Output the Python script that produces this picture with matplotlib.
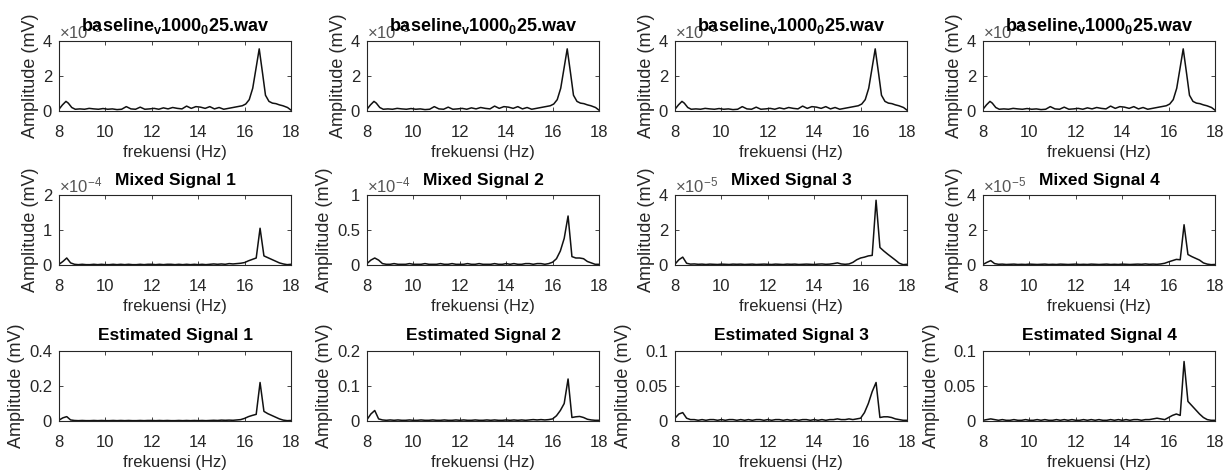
import numpy as np
import matplotlib.pyplot as plt

plt.rcParams['font.family'] = ['Liberation Sans', 'DejaVu Sans']
plt.rcParams['mathtext.fontset'] = 'custom'
plt.rcParams['mathtext.rm'] = 'Liberation Sans'
plt.rcParams['mathtext.it'] = 'Liberation Sans:italic'
plt.rcParams['mathtext.bf'] = 'Liberation Sans:bold'

# spectrum of the reference recording (mV, x1e-3)
freq_base = [8.00, 8.15, 8.30, 8.40, 8.55, 8.70, 8.90,
             9.10, 9.30, 9.50, 9.70, 9.90, 10.10, 10.30, 10.50, 10.70, 10.90,
             11.10, 11.30, 11.50, 11.70, 11.90, 12.10, 12.30, 12.50, 12.70, 12.90,
             13.10, 13.30, 13.50, 13.70, 13.90, 14.10, 14.30, 14.50, 14.70, 14.90,
             15.10, 15.30, 15.50, 15.70, 15.90,
             16.05, 16.20, 16.35, 16.50, 16.63, 16.78, 16.90, 17.05, 17.20, 17.35,
             17.50, 17.65, 17.85, 18.00]
amp_base = [0.10, 0.35, 0.55, 0.45, 0.20, 0.10, 0.12,
            0.10, 0.15, 0.12, 0.10, 0.14, 0.10, 0.12, 0.08, 0.10, 0.25,
            0.12, 0.10, 0.22, 0.10, 0.12, 0.15, 0.10, 0.18, 0.12, 0.20,
            0.15, 0.12, 0.28, 0.15, 0.25, 0.22, 0.15, 0.25, 0.12, 0.20,
            0.10, 0.15, 0.20, 0.25, 0.30,
            0.40, 0.65, 1.30, 2.50, 3.55, 2.10, 0.90, 0.55, 0.45, 0.42,
            0.35, 0.30, 0.20, 0.05]

# mixed / estimated spectra share a 1/6 Hz grid
freq = np.linspace(8, 18, 61)

mixed1 = [0.02, 0.10, 0.20, 0.06, 0.02, 0.01, 0.02, 0.01, 0.01, 0.02,
          0.01, 0.02, 0.01, 0.01, 0.02, 0.01, 0.02, 0.01, 0.02, 0.01,
          0.01, 0.02, 0.01, 0.02, 0.02, 0.01, 0.02, 0.01, 0.02, 0.02,
          0.01, 0.02, 0.01, 0.02, 0.01, 0.02, 0.01, 0.02, 0.01, 0.02,
          0.03, 0.02, 0.03, 0.02, 0.04, 0.03, 0.04, 0.05, 0.07, 0.12,
          0.16, 0.20, 1.05, 0.26, 0.21, 0.16, 0.11, 0.06, 0.03, 0.01,
          0.02]
mixed2 = [0.02, 0.07, 0.10, 0.07, 0.02, 0.01, 0.01, 0.02, 0.01, 0.01,
          0.01, 0.02, 0.01, 0.01, 0.01, 0.02, 0.01, 0.01, 0.01, 0.02,
          0.01, 0.01, 0.02, 0.01, 0.01, 0.01, 0.02, 0.01, 0.01, 0.02,
          0.01, 0.01, 0.01, 0.02, 0.01, 0.01, 0.02, 0.01, 0.02, 0.01,
          0.01, 0.02, 0.02, 0.01, 0.02, 0.02, 0.01, 0.02, 0.04, 0.09,
          0.20, 0.38, 0.70, 0.12, 0.10, 0.10, 0.09, 0.05, 0.03, 0.01,
          0.01]
mixed3 = [0.05, 0.30, 0.45, 0.10, 0.05, 0.06, 0.04, 0.05, 0.03, 0.05,
          0.04, 0.03, 0.05, 0.04, 0.03, 0.05, 0.04, 0.05, 0.03, 0.04,
          0.05, 0.03, 0.04, 0.05, 0.04, 0.03, 0.05, 0.04, 0.03, 0.05,
          0.04, 0.05, 0.03, 0.04, 0.05, 0.04, 0.03, 0.05, 0.06, 0.04,
          0.05, 0.08, 0.12, 0.06, 0.04, 0.06, 0.15, 0.30, 0.40, 0.45,
          0.52, 0.55, 3.70, 1.00, 0.80, 0.62, 0.45, 0.28, 0.10, 0.02,
          0.04]
mixed4 = [0.03, 0.15, 0.25, 0.08, 0.04, 0.05, 0.03, 0.04, 0.05, 0.03,
          0.04, 0.03, 0.05, 0.04, 0.03, 0.04, 0.05, 0.03, 0.04, 0.03,
          0.05, 0.04, 0.03, 0.04, 0.05, 0.03, 0.04, 0.03, 0.05, 0.04,
          0.03, 0.04, 0.05, 0.03, 0.04, 0.03, 0.05, 0.04, 0.03, 0.04,
          0.05, 0.04, 0.06, 0.04, 0.05, 0.04, 0.06, 0.10, 0.18, 0.25,
          0.32, 0.30, 2.30, 0.60, 0.48, 0.38, 0.28, 0.12, 0.05, 0.02,
          0.03]

est1 = [0.005, 0.018, 0.025, 0.006, 0.003, 0.002, 0.003, 0.002, 0.002, 0.003,
        0.002, 0.003, 0.002, 0.002, 0.003, 0.002, 0.003, 0.002, 0.003, 0.002,
        0.002, 0.003, 0.002, 0.003, 0.003, 0.002, 0.003, 0.002, 0.003, 0.002,
        0.002, 0.003, 0.002, 0.003, 0.002, 0.003, 0.002, 0.003, 0.002, 0.003,
        0.004, 0.003, 0.005, 0.004, 0.005, 0.004, 0.006, 0.008, 0.015, 0.025,
        0.032, 0.038, 0.220, 0.055, 0.042, 0.032, 0.022, 0.012, 0.005, 0.002,
        0.003]
est2 = [0.004, 0.020, 0.030, 0.006, 0.003, 0.002, 0.003, 0.002, 0.003, 0.002,
        0.002, 0.003, 0.002, 0.002, 0.003, 0.002, 0.002, 0.003, 0.002, 0.002,
        0.003, 0.002, 0.002, 0.003, 0.002, 0.003, 0.002, 0.002, 0.003, 0.002,
        0.002, 0.003, 0.002, 0.003, 0.002, 0.002, 0.003, 0.002, 0.003, 0.002,
        0.003, 0.002, 0.003, 0.004, 0.003, 0.004, 0.003, 0.004, 0.006, 0.015,
        0.030, 0.050, 0.120, 0.010, 0.012, 0.013, 0.010, 0.005, 0.003, 0.002,
        0.002]
est3 = [0.004, 0.010, 0.012, 0.004, 0.002, 0.002, 0.001, 0.002, 0.001, 0.002,
        0.002, 0.001, 0.002, 0.001, 0.002, 0.002, 0.001, 0.002, 0.001, 0.002,
        0.001, 0.002, 0.002, 0.001, 0.002, 0.001, 0.002, 0.002, 0.001, 0.002,
        0.001, 0.002, 0.001, 0.002, 0.002, 0.001, 0.002, 0.001, 0.002, 0.001,
        0.002, 0.002, 0.003, 0.002, 0.002, 0.003, 0.002, 0.003, 0.004, 0.012,
        0.025, 0.042, 0.055, 0.005, 0.006, 0.006, 0.005, 0.003, 0.002, 0.001,
        0.001]
est4 = [0.001, 0.002, 0.003, 0.002, 0.001, 0.002, 0.001, 0.001, 0.002, 0.001,
        0.001, 0.002, 0.001, 0.001, 0.002, 0.001, 0.002, 0.001, 0.001, 0.002,
        0.001, 0.002, 0.001, 0.002, 0.001, 0.001, 0.002, 0.001, 0.002, 0.001,
        0.002, 0.001, 0.001, 0.002, 0.001, 0.002, 0.001, 0.002, 0.001, 0.002,
        0.002, 0.001, 0.002, 0.002, 0.003, 0.004, 0.003, 0.002, 0.005, 0.008,
        0.010, 0.008, 0.085, 0.028, 0.022, 0.016, 0.010, 0.005, 0.002, 0.001,
        0.001]

base_title = r'baseline$_\mathbf{v}$1000$_\mathbf{0}$25.wav'
mixed_titles = ['Mixed Signal 1', 'Mixed Signal 2', 'Mixed Signal 3', 'Mixed Signal 4']
est_titles = ['Estimated Signal 1', 'Estimated Signal 2', 'Estimated Signal 3', 'Estimated Signal 4']

base_top, base_exp = 4e-3, -3
mixed_tops = [2e-4, 1e-4, 4e-5, 4e-5]
mixed_exps = [-4, -4, -5, -5]
est_tops = [0.4, 0.2, 0.1, 0.1]

rows = []
rows.append([(freq_base, np.array(amp_base) * 1e-3, base_title, base_top, base_exp)] * 4)
rows.append([(freq, np.array(m) * 10.0 ** e, t, top, e)
             for m, t, top, e in zip([mixed1, mixed2, mixed3, mixed4],
                                     mixed_titles, mixed_tops, mixed_exps)])
rows.append([(freq, np.array(s), t, top, None)
             for s, t, top in zip([est1, est2, est3, est4], est_titles, est_tops)])

# title size / pad per row
title_size = [13, 12.5, 12.5]
title_pad = [7, 7, 8]

W, H = 1228, 476
fig = plt.figure(figsize=(W / 100, H / 100), dpi=100)
lefts = [59, 367, 675, 983]
tops = [41, 195, 351]
aw, ah = 232, 70
txt = '#262626'

for r, row in enumerate(rows):
    for c, (x, y, title, top, e) in enumerate(row):
        ax = fig.add_axes([lefts[c] / W, 1 - (tops[r] + ah) / H, aw / W, ah / H])
        ax.plot(x, y, color='#111111', lw=1.1)
        ax.set_xlim(8, 18)
        ax.set_ylim(0, top)
        ax.set_xticks(range(8, 19, 2))
        yt = [0, top / 2, top]
        ax.set_yticks(yt)
        scale = 1.0 if e is None else 10.0 ** e
        ax.set_yticklabels(['%g' % round(v / scale, 6) for v in yt])
        ax.tick_params(direction='in', length=3, width=0.6, top=True, right=True,
                       labelsize=12, colors=txt)
        ax.tick_params(axis='x', pad=10)
        ax.tick_params(axis='y', pad=5)
        for sp in ax.spines.values():
            sp.set_linewidth(0.8)
            sp.set_color(txt)
        if e is not None:
            ax.text(0.0, 1.04, r'$\times10^{%d}$' % e, transform=ax.transAxes,
                    ha='left', va='baseline', fontsize=12, color='#555555')
        ax.set_title(title, fontsize=title_size[r], fontweight='bold', color='k',
                     pad=title_pad[r])
        ax.set_xlabel('frekuensi (Hz)', fontsize=12, color=txt, labelpad=4)
        ax.set_ylabel('Amplitude (mV)', fontsize=13, color=txt, labelpad=3)

fig.savefig('out.png', dpi=100)
